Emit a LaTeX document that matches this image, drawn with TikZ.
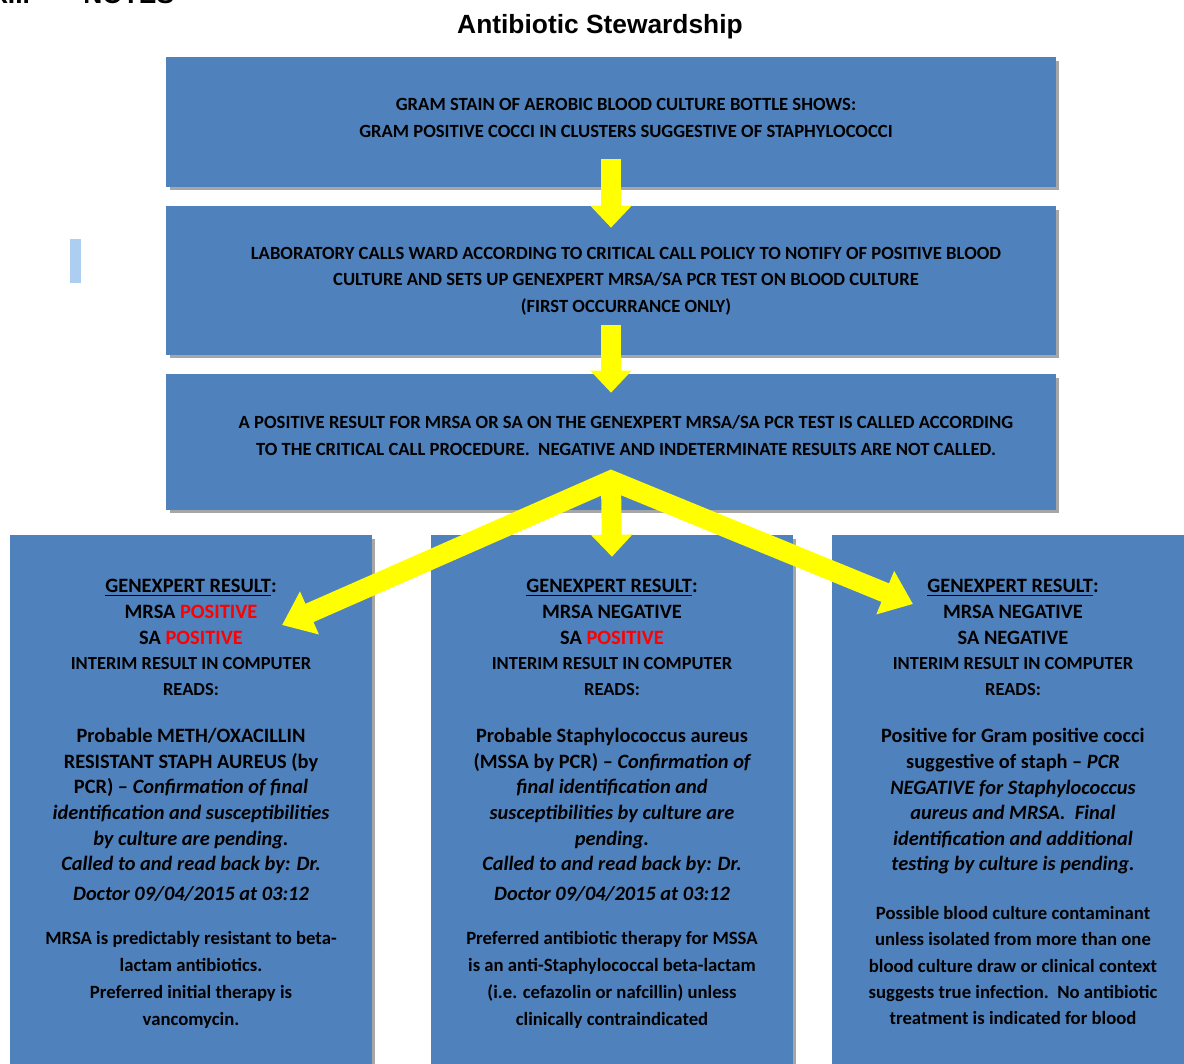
\documentclass[tikz,border=0pt]{standalone}
\usepackage{fontspec}
\setmainfont{Carlito}
\newfontfamily\arialfont{Liberation Sans}
\usepackage{tikz}
\usetikzlibrary{arrows.meta, positioning, shadows, calc}
\usepackage{xcolor}
\definecolor{boxblue}{RGB}{79,129,189}
\definecolor{flowyellow}{RGB}{255,255,0}
\definecolor{barblue}{RGB}{172,206,240}
\definecolor{alertred}{RGB}{255,0,0}

\tikzset{
    stepbox/.style={fill=boxblue, draw=none, inner sep=0pt,
        drop shadow={shadow xshift=0.07cm, shadow yshift=-0.07cm,
                     fill=black, opacity=0.35}},
    headline/.style={font=\arialfont\fontsize{15}{18}\selectfont\bfseries, inner sep=0pt},
    boxtext/.style={font=\fontsize{10.6}{15}\selectfont\bfseries, align=center, inner sep=0pt},
    celltext/.style={font=\fontsize{11.6}{14.6}\selectfont\bfseries, align=center,
        inner sep=0pt, anchor=north},
    notetext/.style={celltext, font=\fontsize{10.65}{15.4}\selectfont\bfseries},
    flow/.style={draw=flowyellow, line width=0.4cm,
        -{Triangle[width=0.8cm, length=0.44cm]}},
}
\newcommand{\pos}{\textcolor{alertred}{POSITIVE}}
\newcommand{\interim}{{\fontsize{10.5}{14.6}\selectfont INTERIM RESULT IN COMPUTER}\\
    {\fontsize{10.5}{14.6}\selectfont READS:}}

\begin{document}
\begin{tikzpicture}[x=0.02cm, y=-0.02cm]
    \useasboundingbox (0,0) rectangle (1184,1063);
    \clip (0,0) rectangle (1184,1063);
    \fill[white] (0,0) rectangle (1184,1063);

    \node[headline, anchor=base west] (xii) at (-10,3) {XII.};
    \node[headline, anchor=base west] (notes) at (83,3) {NOTES};
    \node[headline, anchor=base] (title) at (600,33) {Antibiotic Stewardship};
    \fill[barblue] (70,239) rectangle (81,283);

    \node[stepbox, minimum width=17.8cm, minimum height=2.6cm] (b1) at (611,122) {};
    \node[stepbox, minimum width=17.8cm, minimum height=2.98cm] (b2) at (611,280.5) {};
    \node[stepbox, minimum width=17.8cm, minimum height=2.72cm] (b3) at (611,442) {};
    \node[stepbox, minimum width=7.24cm, minimum height=10.9cm] (mrsa) at (191,807.5) {};
    \node[stepbox, minimum width=7.24cm, minimum height=10.9cm] (mssa) at (612,807.5) {};
    \node[stepbox, minimum width=7.24cm, minimum height=10.9cm] (neg) at (1013,807.5) {};

    \node[boxtext] (t1) at (626,118)
      {GRAM STAIN OF AEROBIC BLOOD CULTURE BOTTLE SHOWS:\\
       GRAM POSITIVE COCCI IN CLUSTERS SUGGESTIVE OF STAPHYLOCOCCI};
    \node[boxtext] (t2) at (626,281)
      {LABORATORY CALLS WARD ACCORDING TO CRITICAL CALL POLICY TO NOTIFY OF POSITIVE BLOOD\\
       CULTURE AND SETS UP GENEXPERT MRSA/SA PCR TEST ON BLOOD CULTURE\\
       (FIRST OCCURRANCE ONLY)};
    \node[boxtext] (t3) at (626,435.5)
      {A POSITIVE RESULT FOR MRSA OR SA ON THE GENEXPERT MRSA/SA PCR TEST IS CALLED ACCORDING\\
       TO THE CRITICAL CALL PROCEDURE.\ \ NEGATIVE AND INDETERMINATE RESULTS ARE NOT CALLED.};

    \node[celltext] (mrsahead) at (191,579)
      {\underline{GENEXPERT RESULT}:\\ MRSA \pos\\ SA \pos\\ \interim};
    \node[celltext] (mrsaread) at (191,728)
      {Probable METH/OXACILLIN\\ RESISTANT STAPH AUREUS (by\\
       PCR) -- {\itshape Confirmation of final}\\
       {\itshape identification and susceptibilities}\\
       {\itshape by culture are pending.}\\
       {\itshape Called to and read back by: Dr.}\\[2pt]
       {\itshape Doctor 09/04/2015 at 03:12}};
    \node[notetext] (mrsanote) at (191,931)
      {MRSA is predictably resistant to beta-\\ lactam antibiotics.\\
       Preferred initial therapy is\\ vancomycin.};

    \node[celltext] (mssahead) at (612,579)
      {\underline{GENEXPERT RESULT}:\\ MRSA NEGATIVE\\ SA \pos\\ \interim};
    \node[celltext] (mssaread) at (612,728)
      {Probable Staphylococcus aureus\\
       (MSSA by PCR) -- {\itshape Confirmation of}\\
       {\itshape final identification and}\\
       {\itshape susceptibilities by culture are}\\
       {\itshape pending.}\\
       {\itshape Called to and read back by: Dr.}\\[2pt]
       {\itshape Doctor 09/04/2015 at 03:12}};
    \node[notetext] (mssanote) at (612,931)
      {Preferred antibiotic therapy for MSSA\\
       is an anti-Staphylococcal beta-lactam\\
       (i.e. cefazolin or nafcillin) unless\\ clinically contraindicated};

    \node[celltext] (neghead) at (1013,579)
      {\underline{GENEXPERT RESULT}:\\ MRSA NEGATIVE\\ SA NEGATIVE\\ \interim};
    \node[celltext] (negread) at (1013,728)
      {Positive for Gram positive cocci\\
       suggestive of staph -- {\itshape PCR}\\
       {\itshape NEGATIVE for Staphylococcus}\\
       {\itshape aureus and MRSA.\ \ Final}\\
       {\itshape identification and additional}\\
       {\itshape testing by culture is pending.}};
    \node[notetext, font=\fontsize{10.65}{15}\selectfont\bfseries] (negnote) at (1013,906)
      {Possible blood culture contaminant\\
       unless isolated from more than one\\
       blood culture draw or clinical context\\
       suggests true infection.\ \ No antibiotic\\
       treatment is indicated for blood};

    \coordinate (apex) at ($(b3.south)+(0,-30)$);
    \coordinate (tipl) at (282,625);
    \coordinate (tipr) at (913,604);

    \draw[flow] ($(b1.south)+(0,-28)$) -- ($(b2.north)+(0,22)$);
    \draw[flow] ($(b2.south)+(0,-30)$) -- ($(b3.north)+(0,19)$);
    \draw[flow] (apex) -- ($(mssa.north)+(0,22)$);
    \draw[flow, line join=miter,
          {Triangle[width=0.9cm, length=0.6cm]}-{Triangle[width=0.9cm, length=0.6cm]}]
      (tipl) -- (apex) -- (tipr);
\end{tikzpicture}
\end{document}
